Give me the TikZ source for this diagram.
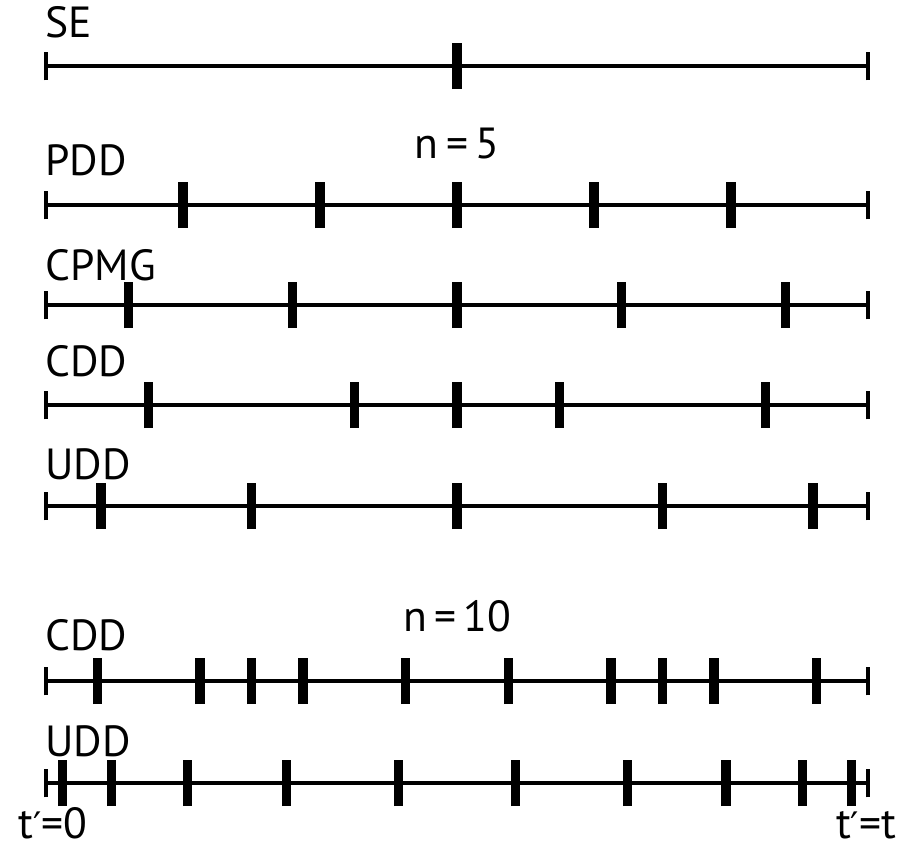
\documentclass[tikz,border=0pt]{standalone}
\usepackage{fontspec}
\setmainfont{PT Sans}
\newfontfamily\primefont{DejaVu Sans}
\usetikzlibrary{positioning,calc}

\begin{document}
\begin{tikzpicture}[
    timeline/.style={line width=3pt},
    endtick/.style={line width=2.4pt},
    pulse/.style={line width=6.6pt},
    seqlabel/.style={inner sep=0pt, font=\fontsize{31}{36}\selectfont}
]
    \useasboundingbox (0,0) rectangle (22.55,21.15);

    % start and end of every time axis
    \foreach \row/\y in {se/19.5, pdd/16.025, cpmg/13.525, cdd/11.025, udd/8.5, cddx/4.125, uddx/1.575} {
        \coordinate (\row-a) at (1.15,\y);
        \coordinate (\row-b) at (21.7,\y);
    }

    % axes with end marks
    \foreach \row in {se,pdd,cpmg,cdd,udd,cddx,uddx} {
        \draw[timeline] (\row-a) -- (\row-b);
        \draw[endtick] ($(\row-a)+(0,-0.36)$) -- ($(\row-a)+(0,0.36)$);
        \draw[endtick] ($(\row-b)+(0,-0.36)$) -- ($(\row-b)+(0,0.36)$);
    }

    % sequence names
    \node[seqlabel, above right=0.7cm and -0.02cm of se-a] (se-lbl) {SE};
    \node[seqlabel, above right=0.72cm and -0.02cm of pdd-a] (pdd-lbl) {PDD};
    \node[seqlabel, above right=0.6cm and -0.02cm of cpmg-a] (cpmg-lbl) {CPMG};
    \node[seqlabel, above right=0.68cm and -0.02cm of cdd-a] (cdd-lbl) {CDD};
    \node[seqlabel, above right=0.65cm and -0.02cm of udd-a] (udd-lbl) {UDD};
    \node[seqlabel, above right=0.75cm and -0.02cm of cddx-a] (cddx-lbl) {CDD};
    \node[seqlabel, above right=0.65cm and -0.02cm of uddx-a] (uddx-lbl) {UDD};

    \node[seqlabel, anchor=base] (n5) at ($(pdd-a)!0.5!(pdd-b)+(0,1.15)$) {n\,=\,5};
    \node[seqlabel, anchor=base] (n10) at ($(cddx-a)!0.5!(cddx-b)+(0,1.25)$) {n\,=\,10};

    \node[seqlabel, anchor=base] (t-start) at ($(uddx-a)+(0.17,-1.38)$) {t{\primefont\fontsize{26}{30}\selectfont′}=0};
    \node[seqlabel, anchor=base] (t-end) at ($(uddx-b)+(-0.05,-1.38)$) {t{\primefont\fontsize{26}{30}\selectfont′}=t};

    % pi pulses
    \draw[pulse] ($(se-a)!0.5!(se-b)+(0,-0.58)$) -- ++(0,1.16);
    \foreach \j in {1,...,5}
        \draw[pulse] ($(pdd-a)!\j/6!(pdd-b)+(0,-0.58)$) -- ++(0,1.16);
    \foreach \j in {1,...,5}
        \draw[pulse] ($(cpmg-a)!{(\j-0.5)/5}!(cpmg-b)+(0,-0.58)$) -- ++(0,1.16);
    \foreach \f in {0.125,0.375,0.5,0.625,0.875}
        \draw[pulse] ($(cdd-a)!\f!(cdd-b)+(0,-0.58)$) -- ++(0,1.16);
    \foreach \j [evaluate=\j as \f using {sin(\j*15)^2}] in {1,...,5}
        \draw[pulse] ($(udd-a)!\f!(udd-b)+(0,-0.58)$) -- ++(0,1.16);
    \foreach \j in {1,3,4,5,7,9,11,12,13,15}
        \draw[pulse] ($(cddx-a)!\j/16!(cddx-b)+(0,-0.58)$) -- ++(0,1.16);
    \foreach \j [evaluate=\j as \f using {sin(\j*90/11)^2}] in {1,...,10}
        \draw[pulse] ($(uddx-a)!\f!(uddx-b)+(0,-0.58)$) -- ++(0,1.16);
\end{tikzpicture}
\end{document}
